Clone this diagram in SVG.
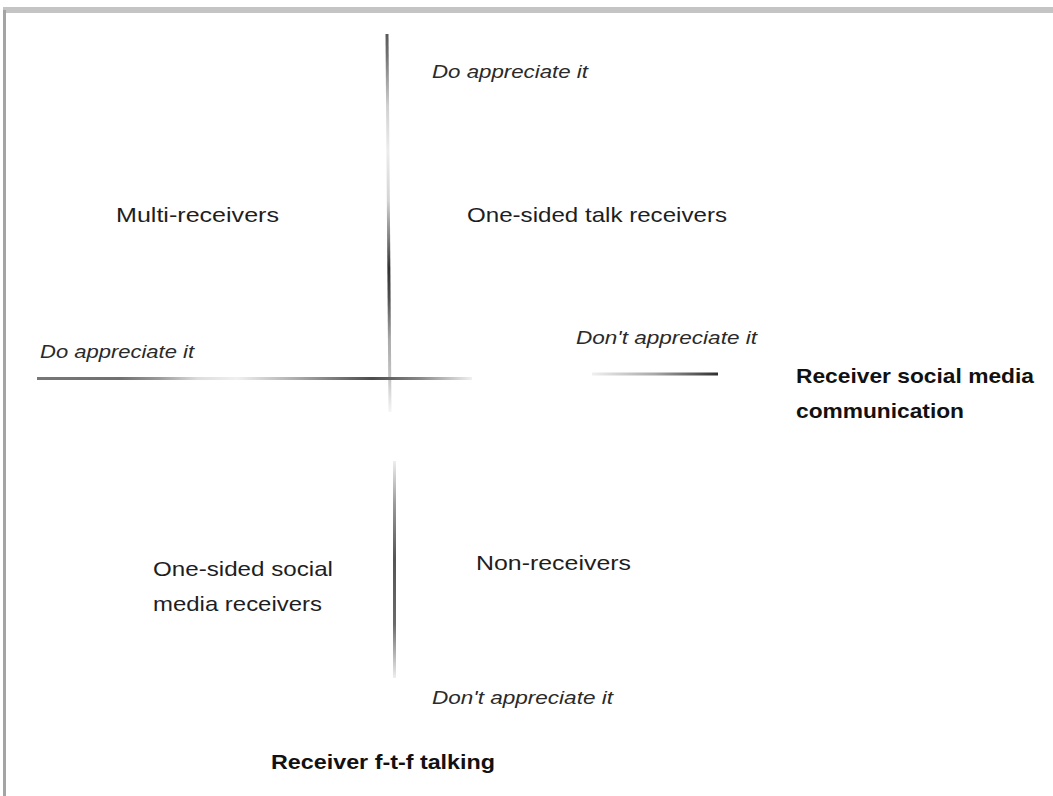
<svg xmlns="http://www.w3.org/2000/svg" width="1053" height="796" viewBox="0 0 1053 796">
  <style>
    .lbl { font-family: "Liberation Sans", Arial, sans-serif; font-size: 21px; fill: #1e1e1e; }
    .ital { font-family: "Liberation Sans", Arial, sans-serif; font-size: 18px; font-style: italic; fill: #2a2a2a; }
    .axis { font-family: "Liberation Sans", Arial, sans-serif; font-size: 21px; font-weight: bold; fill: #111111; }
    .frame { fill: #c4c4c4; }
    .frame-side { fill: #a4a4a4; }
  </style>
  <defs>
    <!-- fading strokes of the quadrant axes -->
    <linearGradient id="gUpper" gradientUnits="userSpaceOnUse" x1="0" y1="34" x2="0" y2="412">
      <stop offset="0" stop-color="#5a5a5a"/>
      <stop offset="0.056" stop-color="#707070"/>
      <stop offset="0.12" stop-color="#a0a0a0"/>
      <stop offset="0.19" stop-color="#d0d0d0"/>
      <stop offset="0.31" stop-color="#ececec"/>
      <stop offset="0.44" stop-color="#d4d4d4"/>
      <stop offset="0.54" stop-color="#808080"/>
      <stop offset="0.62" stop-color="#303030"/>
      <stop offset="0.70" stop-color="#505050"/>
      <stop offset="0.81" stop-color="#aaaaaa"/>
      <stop offset="0.91" stop-color="#c4c4c4"/>
      <stop offset="1" stop-color="#f6f6f6"/>
    </linearGradient>
    <linearGradient id="gHoriz" gradientUnits="userSpaceOnUse" x1="37" y1="0" x2="472" y2="0">
      <stop offset="0" stop-color="#777777"/>
      <stop offset="0.19" stop-color="#707070"/>
      <stop offset="0.28" stop-color="#9a9a9a"/>
      <stop offset="0.37" stop-color="#dddddd"/>
      <stop offset="0.46" stop-color="#f0f0f0"/>
      <stop offset="0.60" stop-color="#aaaaaa"/>
      <stop offset="0.77" stop-color="#4c4c4c"/>
      <stop offset="0.88" stop-color="#888888"/>
      <stop offset="1" stop-color="#f0f0f0"/>
    </linearGradient>
    <linearGradient id="gRight" gradientUnits="userSpaceOnUse" x1="592" y1="0" x2="718" y2="0">
      <stop offset="0" stop-color="#f0f0f0"/>
      <stop offset="0.5" stop-color="#a8a8a8"/>
      <stop offset="1" stop-color="#2e2e2e"/>
    </linearGradient>
    <linearGradient id="gLower" gradientUnits="userSpaceOnUse" x1="0" y1="461" x2="0" y2="678">
      <stop offset="0" stop-color="#eeeeee"/>
      <stop offset="0.2" stop-color="#9a9a9a"/>
      <stop offset="0.45" stop-color="#555555"/>
      <stop offset="0.75" stop-color="#6a6a6a"/>
      <stop offset="1" stop-color="#eeeeee"/>
    </linearGradient>
  </defs>

  <rect width="1053" height="796" fill="#ffffff"/>

  <!-- outer frame edges -->
  <g id="frame">
    <rect class="frame" x="3" y="7" width="1050" height="6"/>
    <rect class="frame-side" x="3" y="10" width="3" height="786"/>
  </g>

  <!-- quadrant axes -->
  <g id="connectors" fill="none" stroke-width="3">
    <line x1="387" y1="34" x2="390" y2="412" stroke="url(#gUpper)"/>
    <line x1="37" y1="378.5" x2="472" y2="378.5" stroke="url(#gHoriz)"/>
    <line x1="592" y1="374" x2="718" y2="374" stroke="url(#gRight)"/>
    <line x1="394.5" y1="461" x2="394.5" y2="678" stroke="url(#gLower)"/>
  </g>

  <!-- axis end labels -->
  <g id="label-top">
    <text class="ital" x="432" y="78" textLength="156" lengthAdjust="spacingAndGlyphs">Do appreciate it</text>
  </g>
  <g id="label-left">
    <text class="ital" x="40" y="358" textLength="154" lengthAdjust="spacingAndGlyphs">Do appreciate it</text>
  </g>
  <g id="label-right">
    <text class="ital" x="576" y="344" textLength="181" lengthAdjust="spacingAndGlyphs">Don't appreciate it</text>
  </g>
  <g id="label-bottom">
    <text class="ital" x="432" y="704" textLength="181" lengthAdjust="spacingAndGlyphs">Don't appreciate it</text>
  </g>

  <!-- axis titles -->
  <g id="axis-social">
    <text class="axis" x="796" y="383" textLength="238" lengthAdjust="spacingAndGlyphs">Receiver social media</text>
    <text class="axis" x="796" y="418" textLength="168" lengthAdjust="spacingAndGlyphs">communication</text>
  </g>
  <g id="axis-ftf">
    <text class="axis" x="271" y="769" textLength="224" lengthAdjust="spacingAndGlyphs">Receiver f-t-f talking</text>
  </g>

  <!-- quadrant names -->
  <g id="q-multi">
    <text class="lbl" x="116" y="222" textLength="163" lengthAdjust="spacingAndGlyphs">Multi-receivers</text>
  </g>
  <g id="q-talk">
    <text class="lbl" x="467" y="222" textLength="260" lengthAdjust="spacingAndGlyphs">One-sided talk receivers</text>
  </g>
  <g id="q-social">
    <text class="lbl" x="153" y="576" textLength="180" lengthAdjust="spacingAndGlyphs">One-sided social</text>
    <text class="lbl" x="153" y="611" textLength="169" lengthAdjust="spacingAndGlyphs">media receivers</text>
  </g>
  <g id="q-non">
    <text class="lbl" x="476" y="570" textLength="155" lengthAdjust="spacingAndGlyphs">Non-receivers</text>
  </g>
</svg>
